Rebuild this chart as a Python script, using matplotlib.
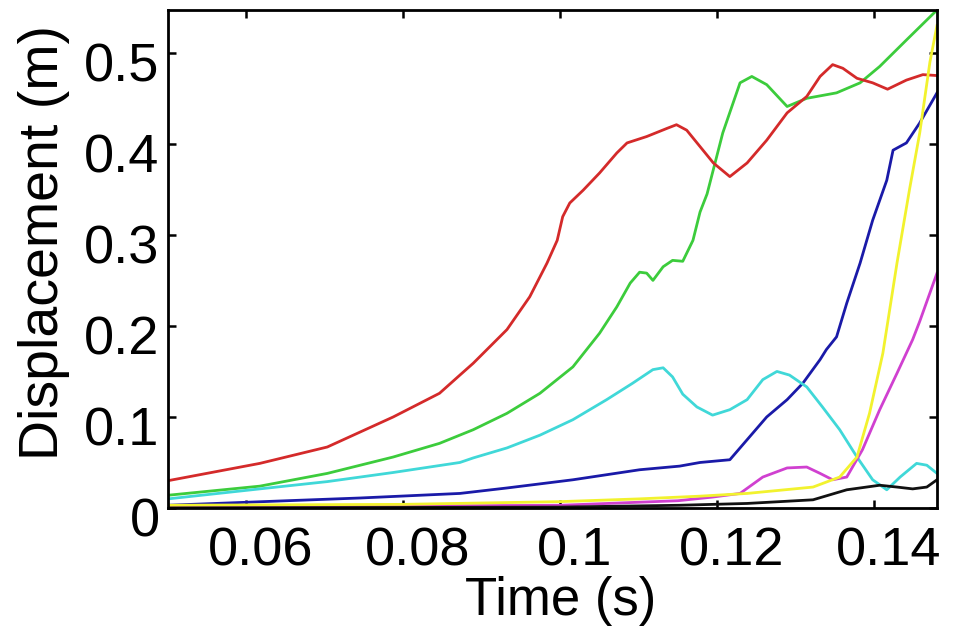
import matplotlib
matplotlib.use("Agg")
import matplotlib.pyplot as plt
import matplotlib.transforms as mtransforms

# ---- data ----
t_red = [0.0500, 0.0617, 0.0703, 0.0787, 0.0846, 0.0872, 0.0889, 0.0932, 0.0961, 0.0983,
         0.0996, 0.1003, 0.1012, 0.1029, 0.1050, 0.1072, 0.1085, 0.1110, 0.1136, 0.1148,
         0.1161, 0.1178, 0.1195, 0.1216, 0.1238, 0.1263, 0.1289, 0.1314, 0.1331, 0.1347,
         0.1360, 0.1378, 0.1398, 0.1417, 0.1441, 0.1462, 0.1480]
d_red = [0.030, 0.049, 0.067, 0.100, 0.126, 0.146, 0.159, 0.196, 0.232, 0.269,
         0.294, 0.320, 0.335, 0.349, 0.368, 0.390, 0.401, 0.408, 0.417, 0.421,
         0.415, 0.397, 0.379, 0.364, 0.379, 0.404, 0.434, 0.452, 0.474, 0.487,
         0.483, 0.472, 0.467, 0.460, 0.470, 0.476, 0.475]

t_green = [0.0500, 0.0617, 0.0703, 0.0787, 0.0846, 0.0889, 0.0932, 0.0974, 0.1016, 0.1050,
           0.1072, 0.1089, 0.1101, 0.1110, 0.1118, 0.1131, 0.1143, 0.1156, 0.1169, 0.1178,
           0.1187, 0.1207, 0.1229, 0.1244, 0.1263, 0.1289, 0.1314, 0.1352, 0.1382, 0.1407,
           0.1441, 0.1480]
d_green = [0.014, 0.024, 0.038, 0.056, 0.071, 0.086, 0.104, 0.126, 0.155, 0.192,
           0.221, 0.247, 0.259, 0.258, 0.250, 0.265, 0.272, 0.271, 0.294, 0.325,
           0.345, 0.412, 0.467, 0.474, 0.465, 0.441, 0.450, 0.456, 0.467, 0.485,
           0.514, 0.547]

t_cyan = [0.0500, 0.0617, 0.0703, 0.0787, 0.0872, 0.0889, 0.0932, 0.0974, 0.1016, 0.1059,
          0.1092, 0.1118, 0.1131, 0.1143, 0.1156, 0.1174, 0.1194, 0.1216, 0.1238, 0.1258,
          0.1276, 0.1292, 0.1314, 0.1334, 0.1356, 0.1378, 0.1398, 0.1416, 0.1433, 0.1454,
          0.1467, 0.1480]
d_cyan = [0.010, 0.021, 0.029, 0.039, 0.050, 0.055, 0.066, 0.080, 0.097, 0.119,
          0.137, 0.152, 0.154, 0.144, 0.125, 0.111, 0.102, 0.108, 0.119, 0.141,
          0.150, 0.146, 0.133, 0.111, 0.086, 0.056, 0.031, 0.020, 0.034, 0.049,
          0.047, 0.038]

t_blue = [0.0500, 0.0652, 0.0745, 0.0872, 0.0932, 0.1016, 0.1101, 0.1152, 0.1178, 0.1216,
          0.1238, 0.1263, 0.1289, 0.1309, 0.1331, 0.1339, 0.1352, 0.1365, 0.1382, 0.1398,
          0.1416, 0.1424, 0.1441, 0.1458, 0.1480]
d_blue = [0.003, 0.008, 0.011, 0.016, 0.022, 0.031, 0.042, 0.046, 0.050, 0.053,
          0.075, 0.100, 0.119, 0.137, 0.163, 0.174, 0.188, 0.225, 0.269, 0.316,
          0.360, 0.393, 0.401, 0.423, 0.456]

t_magenta = [0.0500, 0.1000, 0.1150, 0.1194, 0.1229, 0.1258, 0.1289, 0.1314, 0.1331, 0.1347,
             0.1365, 0.1385, 0.1407, 0.1429, 0.1449, 0.1458, 0.1480]
d_magenta = [0.001, 0.003, 0.008, 0.012, 0.016, 0.034, 0.044, 0.045, 0.038, 0.031,
             0.034, 0.064, 0.108, 0.148, 0.185, 0.205, 0.258]

t_yellow = [0.0500, 0.0800, 0.1000, 0.1100, 0.1178, 0.1238, 0.1322, 0.1356, 0.1378, 0.1394,
            0.1411, 0.1429, 0.1445, 0.1458, 0.1471, 0.1480]
d_yellow = [0.003, 0.004, 0.007, 0.010, 0.013, 0.016, 0.023, 0.034, 0.056, 0.104,
            0.170, 0.269, 0.350, 0.412, 0.490, 0.530]

t_black = [0.0500, 0.1000, 0.1152, 0.1238, 0.1322, 0.1365, 0.1407, 0.1429, 0.1449, 0.1467,
           0.1480]
d_black = [0.000, 0.001, 0.003, 0.005, 0.009, 0.020, 0.025, 0.023, 0.021, 0.023,
           0.031]

x_ticks = [0.06, 0.08, 0.10, 0.12, 0.14]
x_ticklabels = ["0.06", "0.08", "0.1", "0.12", "0.14"]
y_ticks = [0, 0.1, 0.2, 0.3, 0.4, 0.5]
y_ticklabels = ["0", "0.1", "0.2", "0.3", "0.4", "0.5"]

# ---- figure ----
plt.rcParams['font.family'] = ['Liberation Sans', 'DejaVu Sans']
fig = plt.figure(figsize=(9.59, 6.28), dpi=100)
fig.patch.set_facecolor('white')
ax = fig.add_axes([168/959, 1-508/628, (937-168)/959, (508-10)/628])

lw = 2.0
series = [
    (t_blue, d_blue, '#1a1aa8'),
    (t_green, d_green, '#3ccc3c'),
    (t_red, d_red, '#d42a2a'),
    (t_cyan, d_cyan, '#40d8d8'),
    (t_magenta, d_magenta, '#d040d0'),
    (t_yellow, d_yellow, '#f2f22e'),
    (t_black, d_black, '#111111'),
]
for t, d, c in series:
    ax.plot(t, d, color=c, lw=lw, solid_joinstyle='round')

ax.set_xlim(0.05, 0.148)
ax.set_ylim(0, 0.547)
ax.set_xticks(x_ticks)
ax.set_xticklabels(x_ticklabels)
ax.set_yticks(y_ticks)
ax.set_yticklabels(y_ticklabels)

for s in ax.spines.values():
    s.set_linewidth(2.0)
    s.set_color('black')

ax.tick_params(direction='in', length=6, width=1.8, top=True, right=True,
               labelsize=39, colors='black')
ax.tick_params(axis='x', pad=13)
ax.tick_params(axis='y', pad=6)

# slight offsets of tick labels as in reference
dx = mtransforms.ScaledTranslation(14/100, 0, fig.dpi_scale_trans)
for lab in ax.get_xticklabels():
    lab.set_transform(lab.get_transform() + dx)
dy = mtransforms.ScaledTranslation(0, -9/100, fig.dpi_scale_trans)
for lab in ax.get_yticklabels():
    lab.set_transform(lab.get_transform() + dy)

ax.set_xlabel("Time (s)", fontsize=38)
ax.set_ylabel("Displacement (m)", fontsize=40)
ax.xaxis.set_label_coords(0.511, -0.137)
ax.yaxis.set_label_coords(-0.127, 0.534)

fig.savefig("out.png", dpi=100, facecolor='white')
